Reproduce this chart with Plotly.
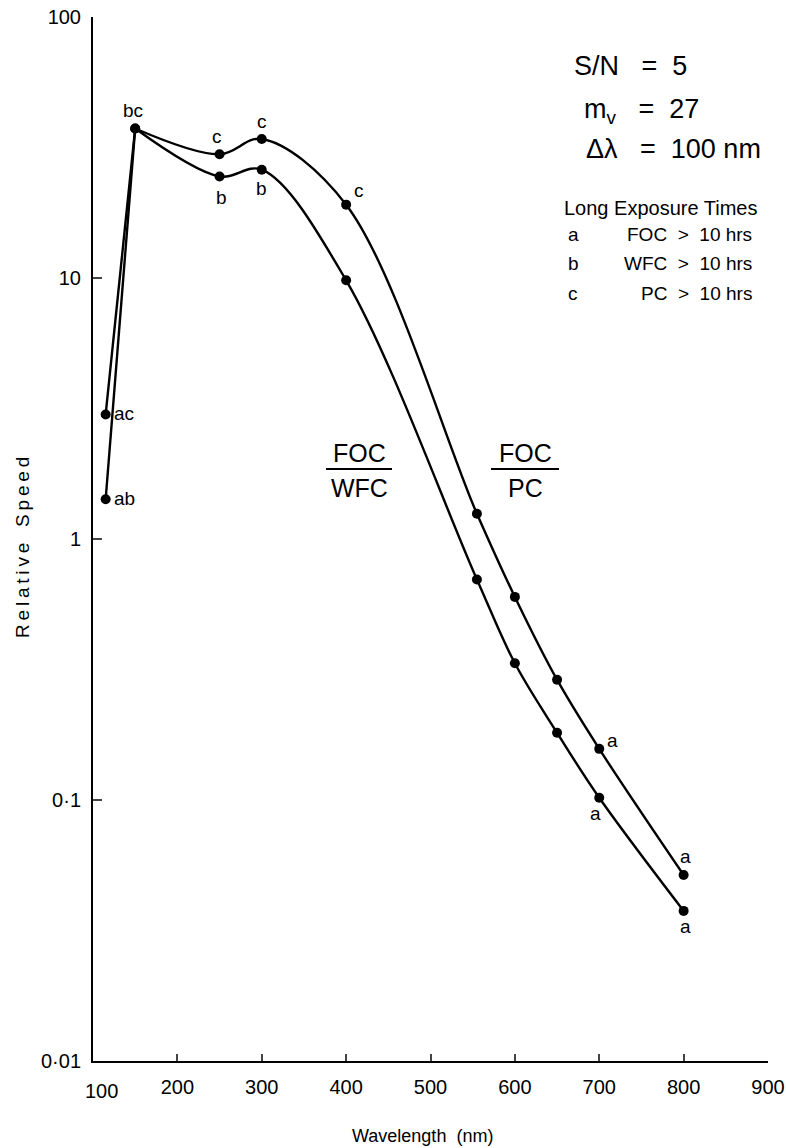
import math
import plotly.graph_objects as go

# ---- data ----
wavelength = [115, 150, 250, 300, 400, 555, 600, 650, 700, 800]
foc_pc = [3.0, 37.4, 29.8, 34.1, 19.1, 1.25, 0.60, 0.289, 0.157, 0.0516]
foc_wfc = [1.42, 37.4, 24.5, 26.0, 9.8, 0.70, 0.334, 0.181, 0.102, 0.0376]

x_ticks = [200, 300, 400, 500, 600, 700, 800, 900]
x_first_label = "100"
y_ticks = [0.01, 0.1, 1, 10, 100]
y_ticktext = ["0·01", "0·1", "1", "10", "100"]

# point labels: (index, text, xshift, yshift)
pc_labels = [(0, "ac", 18, 1), (1, "bc", -2, 18), (2, "c", -3, 18), (3, "c", 0, 17),
             (4, "c", 13, 14), (8, "a", 13, 8), (9, "a", 2, 19)]
wfc_labels = [(0, "ab", 19, 1), (2, "b", 2, -21), (3, "b", 0, -19),
              (8, "a", -4, -16), (9, "a", 2, -16)]

FONT = "Liberation Sans"
W, H = 786, 1148
ML, MR, MT, MB = 93, 18, 17, 87
PW, PH = W - ML - MR, H - MT - MB
NB = "\u00a0"


def px(x):
    return (x - ML) / PW


def py(y):
    return (H - MB - y) / PH


fig = go.Figure()
for vals in (foc_pc, foc_wfc):
    fig.add_trace(go.Scatter(x=wavelength[:2], y=vals[:2], mode="lines",
                             line=dict(color="black", width=2.4), hoverinfo="skip",
                             showlegend=False))
    fig.add_trace(go.Scatter(x=wavelength[1:], y=vals[1:], mode="lines",
                             line=dict(color="black", width=2.4, shape="spline", smoothing=1.0),
                             hoverinfo="skip", showlegend=False))
    fig.add_trace(go.Scatter(x=wavelength, y=vals, mode="markers",
                             marker=dict(color="black", size=10), showlegend=False))

ann = []
for labels, vals in ((pc_labels, foc_pc), (wfc_labels, foc_wfc)):
    for i, t, dx, dy in labels:
        ann.append(dict(x=wavelength[i], y=math.log10(vals[i]), xref="x", yref="y",
                        text=t, xshift=dx, yshift=dy,
                        font=dict(family=FONT, size=19, color="black")))

# top-right text block
big = dict(family=FONT, size=27, color="black")
ann += [
    dict(x=px(572), y=py(66), text="S/N" + NB * 3 + "=" + NB * 2 + "5", xanchor="left", font=big),
    dict(x=px(582), y=py(111), text="m<sub>v</sub>" + NB * 3 + "=" + NB * 2 + "27",
         xanchor="left", font=big),
    dict(x=px(584), y=py(149), text="Δλ" + NB * 3 + "=" + NB * 2 + "100" + NB + "nm",
         xanchor="left", font=big),
    dict(x=px(562), y=py(208), text="Long Exposure Times", xanchor="left",
         font=dict(family=FONT, size=20, color="black")),
]
rows = [("a", "FOC" + NB * 2 + ">" + NB * 2 + "10" + NB + "hrs", 235),
        ("b", "WFC" + NB * 2 + ">" + NB * 2 + "10" + NB + "hrs", 263),
        ("c", "PC" + NB * 2 + ">" + NB * 2 + "10" + NB + "hrs", 293)]
for letter, txt, yy in rows:
    ann.append(dict(x=px(573), y=py(yy), text=letter,
                    font=dict(family=FONT, size=19, color="black")))
    ann.append(dict(x=px(754), y=py(yy), text=txt, xanchor="right",
                    font=dict(family=FONT, size=19, color="black")))

# fraction labels
frac = dict(family=FONT, size=25, color="black")
for cx, top, bot in ((359, "FOC", "WFC"), (525, "FOC", "PC")):
    ann.append(dict(x=px(cx), y=py(453), text=top, font=frac))
    ann.append(dict(x=px(cx), y=py(488), text=bot, font=frac))

# first x tick label (shifted off the axis corner as in the original)
ann.append(dict(x=px(101), y=py(1091), text=x_first_label,
                font=dict(family=FONT, size=20, color="black")))

# axis titles
ts = "\u2009"
ann.append(dict(x=px(22), y=py(548), text=ts.join("Relative") + NB * 3 + ts.join("Speed"),
                textangle=-90, font=dict(family=FONT, size=19, color="black")))
ann.append(dict(x=px(422), y=py(1136), text="Wavelength" + NB * 2 + "(nm)",
                font=dict(family=FONT, size=18, color="black")))

for a in ann:
    a.setdefault("xref", "paper")
    a.setdefault("yref", "paper")
    a.setdefault("xanchor", "center")
    a.setdefault("yanchor", "middle")
    a["showarrow"] = False

shapes = []
for x0, x1 in ((326, 392), (491, 559)):
    shapes.append(dict(type="line", xref="paper", yref="paper", x0=px(x0), x1=px(x1),
                       y0=py(469), y1=py(469), line=dict(color="black", width=2.2)))

fig.update_layout(
    width=W, height=H,
    margin=dict(l=ML, r=MR, t=MT, b=MB, autoexpand=False),
    paper_bgcolor="white", plot_bgcolor="white",
    annotations=ann, shapes=shapes,
    xaxis=dict(range=[100, 900], tickvals=x_ticks, ticks="inside", ticklen=7, tickwidth=2,
               showline=True, linewidth=2, linecolor="black", showgrid=False, zeroline=False,
               automargin=False,
               tickfont=dict(family=FONT, size=20, color="black"), ticklabelstandoff=7),
    yaxis=dict(type="log", range=[-2, 2], tickvals=y_ticks, ticktext=y_ticktext,
               ticks="inside", ticklen=9, tickwidth=2, showline=True, linewidth=2,
               linecolor="black", showgrid=False, zeroline=False, automargin=False,
               tickfont=dict(family=FONT, size=20, color="black"), ticklabelstandoff=6),
    showlegend=False,
)

fig.write_html("out.html")
